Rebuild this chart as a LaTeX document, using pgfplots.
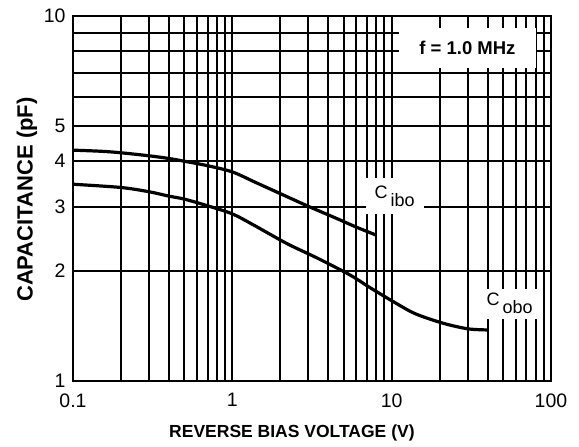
\documentclass[border=0pt]{standalone}
\usepackage{fontspec}
\setmainfont{Liberation Sans}
\usepackage{pgfplots}
\pgfplotsset{compat=1.18}
\begin{document}
\begin{tikzpicture}
\path[use as bounding box] (-73bp,-66bp) rectangle (506bp,381bp);
\begin{axis}[
  xmode=log, ymode=log,
  scale only axis, width=478bp, height=365bp,
  at={(0,0)}, anchor=south west,
  xmin=0.1, xmax=100, ymin=1, ymax=10,
  xtick={0.1,1,10,100}, xticklabels={0.1,1,10,100},
  minor xtick={0.2,0.3,0.4,0.5,0.6,0.7,0.8,0.9,2,3,4,5,6,7,8,9,20,30,40,50,60,70,80,90},
  ytick={1,2,3,4,5,6,7,8,9,10}, yticklabels={1,2,3,4,5,,,,,10},
  grid=both,
  major grid style={black, line width=2bp},
  minor grid style={black, line width=2bp},
  axis line style={black, line width=2bp},
  major tick length=0pt, minor tick length=0pt,
  tick style={draw=none},
  xticklabel style={font=\fontsize{19.5bp}{22bp}\selectfont, yshift=-9bp},
  yticklabel style={font=\fontsize{19.5bp}{22bp}\selectfont, xshift=-4bp},
  xlabel={REVERSE BIAS VOLTAGE (V)},
  ylabel={CAPACITANCE (pF)},
  xlabel style={font=\bfseries\fontsize{17.5bp}{20bp}\selectfont, at={(axis description cs:0.458,0)}, anchor=center, yshift=-52bp},
  ylabel style={font=\bfseries\fontsize{22bp}{24bp}\selectfont, at={(axis description cs:0,0.497)}, anchor=center, yshift=46bp},
]
\addplot[black, line width=3.2bp, smooth, tension=0.5] coordinates {
  (0.1,4.29) (0.15,4.26) (0.2,4.22) (0.3,4.14) (0.4,4.07) (0.5,4.0) (0.7,3.89)
  (1.0,3.74) (1.4,3.50) (2.2,3.20) (3.0,3.01) (4.5,2.79) (6,2.64) (8,2.51)
};
\addplot[black, line width=3.2bp, smooth, tension=0.5] coordinates {
  (0.1,3.46) (0.2,3.39) (0.3,3.30) (0.4,3.21) (0.5,3.15) (0.7,3.02) (1.0,2.87)
  (1.35,2.68) (2.2,2.38) (3.5,2.16) (5.5,1.95) (7.2,1.81) (10,1.66) (14,1.53)
  (21,1.44) (30,1.39) (40,1.38)
};
\node[fill=white, inner sep=0pt, minimum width=137bp, minimum height=40bp,
  font=\bfseries\fontsize{18.5bp}{20bp}\selectfont] at (axis cs:29.9,8.17) {f = 1.0 MHz};
\node[fill=white, inner sep=0pt, minimum width=58bp, minimum height=36bp,
  font=\fontsize{18bp}{20bp}\selectfont] at (axis cs:10.45,3.21) {C\kern3bp\raisebox{-8bp}{ibo}};
\node[fill=white, inner sep=0pt, minimum width=54bp, minimum height=30bp,
  font=\fontsize{18bp}{20bp}\selectfont] at (axis cs:55,1.63) {C\kern3bp\raisebox{-8bp}{obo}};
\end{axis}
\end{tikzpicture}
\end{document}
